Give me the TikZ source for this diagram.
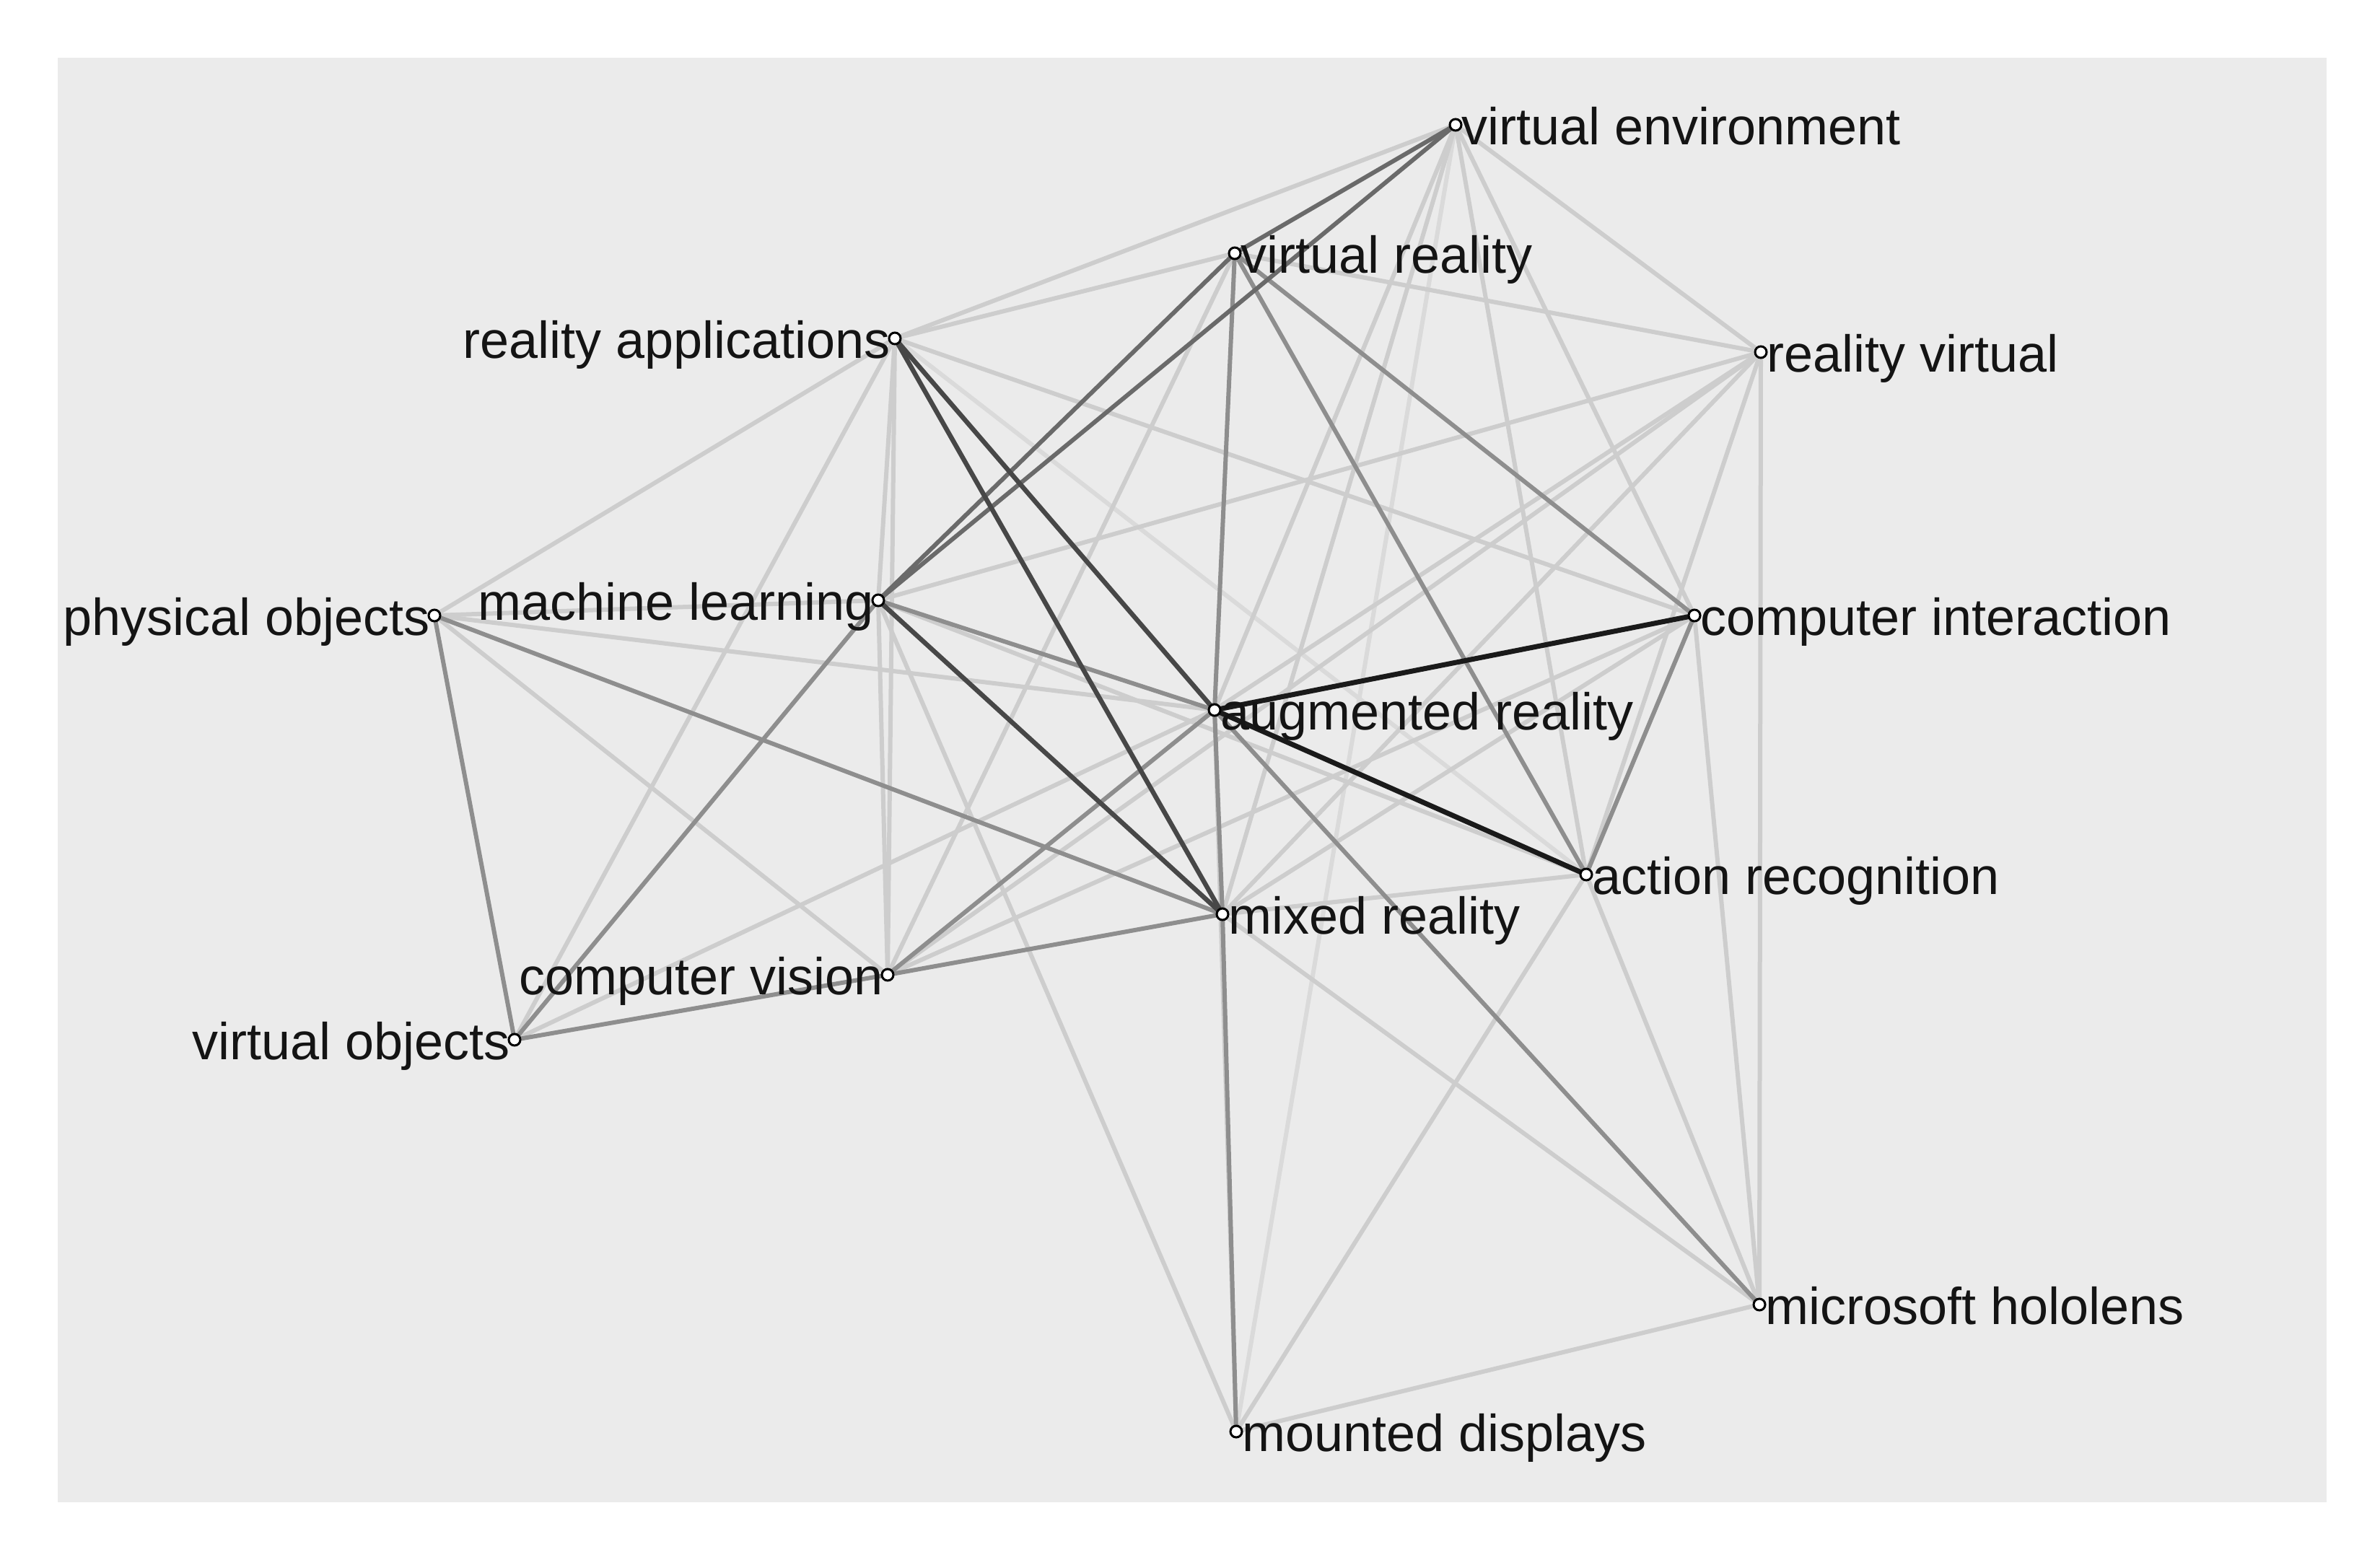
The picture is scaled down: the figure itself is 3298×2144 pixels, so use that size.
\documentclass[tikz,border=0pt]{standalone}
\usepackage{fontspec}
\setmainfont{Liberation Sans}
\definecolor{panel}{HTML}{EBEBEB}
\definecolor{ewA}{HTML}{DADADA}
\definecolor{ewB}{HTML}{CDCDCD}
\definecolor{ewC}{HTML}{8E8E8E}
\definecolor{ewCD}{HTML}{6A6A6A}
\definecolor{ewD}{HTML}{474747}
\definecolor{ewE}{HTML}{1A1A1A}
\tikzset{
  vtx/.style={circle,draw=black,fill=white,line width=3pt,minimum size=16pt,inner sep=0pt},
  lblR/.style={anchor=base west,inner sep=0pt,xshift=8pt,yshift=-27pt,font=\fontsize{72}{86}\selectfont,text=black!92},
  lblL/.style={anchor=base east,inner sep=0pt,xshift=-6pt,yshift=-27pt,font=\fontsize{72}{86}\selectfont,text=black!92},
  wA/.style={draw=ewA,line width=6pt},
  wB/.style={draw=ewB,line width=6pt},
  wC/.style={draw=ewC,line width=6pt},
  wCD/.style={draw=ewCD,line width=6pt},
  wD/.style={draw=ewD,line width=6.5pt},
  wE/.style={draw=ewE,line width=7pt},
}
\begin{document}
\begin{tikzpicture}[x=1pt,y=-1pt]
\useasboundingbox (0,0) rectangle (3298,2144);
\fill[white] (0,0) rectangle (3298,2144);
\fill[panel] (80,80) rectangle (3224,2082);
% node positions
\coordinate (VE) at (2017,173);
\coordinate (VR) at (1711,351);
\coordinate (RA) at (1240,469);
\coordinate (RV) at (2440,488);
\coordinate (PO) at (602,853);
\coordinate (ML) at (1217,832);
\coordinate (CI) at (2348,853);
\coordinate (AR) at (1683,984);
\coordinate (ACR) at (2198,1212);
\coordinate (MR) at (1694,1267);
\coordinate (CV) at (1230,1351);
\coordinate (VO) at (713,1441);
\coordinate (MH) at (2438,1808);
\coordinate (MD) at (1713,1984);
% very light edges
\foreach \a/\b in {VE/MD,RA/ACR}
  \draw[wA] (\a) -- (\b);
% light edges
\foreach \a/\b in {VE/RA,VE/RV,VE/CI,VE/ACR,VE/AR,VE/MR,VR/RA,VR/RV,VR/CV,RA/PO,RA/VO,RA/CV,RA/ML,RA/CI,ML/PO,ML/CV,ML/MD,ML/RV,ML/ACR,PO/AR,PO/CV,VO/AR,CV/CI,CV/RV,AR/RV,AR/MD,MR/MH,MR/ACR,MR/CI,MR/RV,RV/ACR,CI/MH,RV/MH,ACR/MD,ACR/MH,MH/MD}
  \draw[wB] (\a) -- (\b);
% medium edges
\foreach \a/\b in {VR/AR,AR/MR,ML/AR,AR/MH,CV/AR,CV/MR,PO/MR,MR/MD,VR/ACR,VR/CI,CI/ACR,PO/VO,VO/CV,VO/ML}
  \draw[wC] (\a) -- (\b);
\foreach \a/\b in {VE/VR,ML/VR,ML/VE}
  \draw[wCD] (\a) -- (\b);
% dark edges
\draw[wD] (RA) -- (MR);
\draw[wD] (ML) -- (MR);
\draw[wD] (RA) -- (AR);
\draw[wE] (AR) -- (CI);
\draw[wE] (AR) -- (ACR);
% labels
\node[lblR] (tVE) at (VE) {virtual environment};
\node[lblR] (tVR) at (VR) {virtual reality};
\node[lblR] (tRV) at (RV) {reality virtual};
\node[lblR] (tCI) at (CI) {computer interaction};
\node[lblR] (tAR) at (AR) {augmented reality};
\node[lblR] (tACR) at (ACR) {action recognition};
\node[lblR] (tMR) at (MR) {mixed reality};
\node[lblR] (tMH) at (MH) {microsoft hololens};
\node[lblR] (tMD) at (MD) {mounted displays};
\node[lblL] (tRA) at (RA) {reality applications};
\node[lblL] (tPO) at (PO) {physical objects};
\node[lblL] (tML) at (ML) {machine learning};
\node[lblL] (tCV) at (CV) {computer vision};
\node[lblL] (tVO) at (VO) {virtual objects};
% vertices
\foreach \n in {VE,VR,RA,RV,PO,ML,CI,AR,ACR,MR,CV,VO,MH,MD}
  \node[vtx] (n\n) at (\n) {};
\end{tikzpicture}
\end{document}
